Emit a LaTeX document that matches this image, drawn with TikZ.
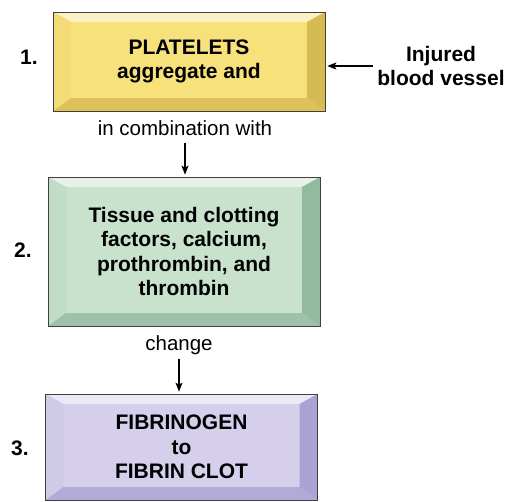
\documentclass[tikz,border=0pt]{standalone}
\usepackage{fontspec}
\setmainfont{Liberation Sans}
\usetikzlibrary{arrows.meta}

\definecolor{yelface}{HTML}{F7E17B}
\definecolor{yeldark}{HTML}{D6BA52}
\definecolor{grnface}{HTML}{C8E2CD}
\definecolor{grndark}{HTML}{93B99E}
\definecolor{purface}{HTML}{D5CFEC}
\definecolor{purdark}{HTML}{AAA2D2}

\tikzset{
  stepbox/.style 2 args={draw=black!75, line width=0.7pt, fill=#1,
    minimum width=272pt, inner sep=0pt, align=center,
    font=\fontsize{21}{24.5}\selectfont\bfseries,
    path picture={
      \coordinate (nw) at (path picture bounding box.north west);
      \coordinate (ne) at (path picture bounding box.north east);
      \coordinate (se) at (path picture bounding box.south east);
      \coordinate (sw) at (path picture bounding box.south west);
      \coordinate (inw) at ([shift={(18pt,-10pt)}]nw);
      \coordinate (ine) at ([shift={(-18pt,-10pt)}]ne);
      \coordinate (ise) at ([shift={(-18pt,13pt)}]se);
      \coordinate (isw) at ([shift={(18pt,13pt)}]sw);
      \fill[#1!45!white] (nw) -- (ne) -- (ine) -- (inw) -- cycle;
      \fill[#1!88!#2] (nw) -- (inw) -- (isw) -- (sw) -- cycle;
      \fill[#2] (ne) -- (se) -- (ise) -- (ine) -- cycle;
      \fill[#2!80!#1] (sw) -- (isw) -- (ise) -- (se) -- cycle;
    }},
  numlabel/.style={inner sep=0pt, font=\fontsize{21}{24.5}\selectfont\bfseries},
  linklabel/.style={inner sep=0pt, font=\fontsize{20.5}{24}\selectfont},
  flow/.style={->, line width=1.2pt, shorten >=2pt}
}

\begin{document}
\begin{tikzpicture}[x=1pt,y=-1pt,>={Stealth[length=9pt,width=7pt,inset=2pt]}]
  \useasboundingbox (0,0) rectangle (510,501);
  % step 1
  \node[stepbox={yelface}{yeldark}, minimum height=99pt] (plat) at (189,61.5)
       {PLATELETS\\aggregate and};
  \node[numlabel] (n1) at (29,57) {1.};
  \node[numlabel, align=center] (inj) at (441,66) {Injured\\blood vessel};
  \draw[flow, shorten <=4pt] (inj.west) -- (inj.west -| plat.east);
  % step 2
  \node[linklabel] (comb) at (185,128) {in combination with};
  \node[stepbox={grnface}{grndark}, minimum height=149pt] (tiss) at (184,251.5)
       {Tissue and clotting\\factors, calcium,\\prothrombin, and\\thrombin};
  \node[numlabel] (n2) at (23,250) {2.};
  \draw[flow, shorten <=7pt] (comb.south) -- (comb.south |- tiss.north);
  % step 3
  \node[linklabel] (chg) at (179,345) {change};
  \node[stepbox={purface}{purdark}, minimum height=106pt] (fib) at (181.5,447)
       {FIBRINOGEN\\to\\FIBRIN CLOT};
  \node[numlabel] (n3) at (20,448) {3.};
  \draw[flow, shorten <=4pt] (chg.south) -- (chg.south |- fib.north);
\end{tikzpicture}
\end{document}
